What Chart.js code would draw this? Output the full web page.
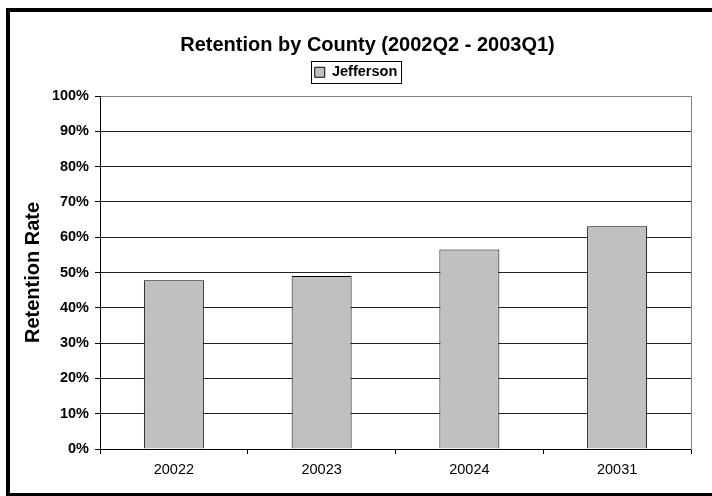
<!DOCTYPE html>
<html>
<head>
<meta charset="utf-8">
<title>Retention by County</title>
<script src="https://cdn.jsdelivr.net/npm/chart.js@4.4.1/dist/chart.umd.min.js"></script>
<style>
    html, body { margin: 0; padding: 0; background: #fff; }
    body { width: 712px; height: 496px; position: relative; overflow: hidden; }
    /* 外框（粗黑线，右侧超出画面） */
    #frame {
        position: absolute; left: 6px; top: 8px;
        width: 720px; height: 489px;
        box-sizing: border-box;
        border: 4px solid #000;
    }
    #c { position: absolute; left: 0; top: 0; }
</style>
</head>
<body>
<div id="frame"></div>
<canvas id="c" width="712" height="496"></canvas>

<script>
// ============================================================
// 数据
// ============================================================

var CHART_TITLE  = "Retention by County (2002Q2 - 2003Q1)";
var AXIS_TITLE   = "Retention Rate";
var SERIES_NAME  = "Jefferson";
var QUARTERS     = ["20022", "20023", "20024", "20031"];
var RETENTION    = [47.8, 49.0, 56.5, 63.1];   // 百分比
var Y_MIN = 0, Y_MAX = 100, Y_STEP = 10;

var FONT_FAMILY = "Arial, 'Liberation Sans', sans-serif";


// ============================================================
// 小插件：挪一下标题/图例位置，给图例画边框
// ============================================================

var layoutNudge = {
    id: "layoutNudge",
    afterLayout: function (chart) {
        var t = chart.titleBlock;
        t.left += 11.5; t.right += 11.5;
        var lg = chart.legend;
        lg.top -= 6.5; lg.bottom -= 6.5;
    },
    afterDraw: function (chart) {
        var hb = chart.legend.legendHitBoxes[0];
        if (!hb) return;
        var ctx = chart.ctx;
        var x1 = Math.round(hb.left - 4) + 0.5;
        var x2 = Math.round(hb.left + hb.width + 4) + 0.5;
        var y1 = Math.round(hb.top - 4) + 0.5;
        var y2 = Math.round(hb.top + hb.height + 3) + 0.5;
        ctx.save();
        ctx.strokeStyle = "#000";
        ctx.lineWidth = 1;
        ctx.strokeRect(x1, y1, x2 - x1, y2 - y1);
        ctx.restore();
    }
};


// ============================================================
// 画图
// ============================================================

document.addEventListener("DOMContentLoaded", function () {
    var ctx = document.getElementById("c").getContext("2d");

    new Chart(ctx, {
        type: "bar",
        data: {
            labels: QUARTERS,
            datasets: [{
                label: SERIES_NAME,
                data: RETENTION,
                backgroundColor: "#c0c0c0",
                borderColor: "#000",
                borderWidth: 1,
                barPercentage: 0.406,
                categoryPercentage: 1.0
            }]
        },
        plugins: [layoutNudge],
        options: {
            responsive: false,
            animation: false,
            layout: { padding: 0 },
            plugins: {
                title: {
                    display: true,
                    text: CHART_TITLE,
                    color: "#000",
                    font: { family: FONT_FAMILY, size: 20, weight: "bold" },
                    padding: { top: 33, bottom: 0 }
                },
                legend: {
                    display: true,
                    position: "top",
                    labels: {
                        color: "#000",
                        boxWidth: 10,
                        boxHeight: 10,
                        padding: 14.5,
                        font: { family: FONT_FAMILY, size: 14.5, weight: "bold" }
                    }
                },
                tooltip: { enabled: false }
            },
            scales: {
                x: {
                    grid: {
                        display: true,
                        drawOnChartArea: false,
                        drawTicks: true,
                        tickLength: 5,
                        color: "#000",
                        offset: true
                    },
                    border: { color: "#000" },
                    ticks: {
                        color: "#000",
                        padding: 7,
                        maxRotation: 0,
                        font: { family: FONT_FAMILY, size: 14.5 }
                    },
                    afterFit: function (s) { s.height = 47; }
                },
                y: {
                    min: Y_MIN,
                    max: Y_MAX,
                    grid: {
                        color: function (c) {
                            return c.tick && c.tick.value === Y_MAX ? "#808080" : "#222";
                        },
                        tickColor: "#000",
                        tickLength: 5
                    },
                    border: { color: "#000" },
                    ticks: {
                        stepSize: Y_STEP,
                        color: "#000",
                        padding: 6,
                        font: { family: FONT_FAMILY, size: 14.5, weight: "bold" },
                        callback: function (v) { return v + "%"; }
                    },
                    title: {
                        display: true,
                        text: AXIS_TITLE,
                        color: "#000",
                        font: { family: FONT_FAMILY, size: 20, weight: "bold" },
                        padding: { top: 21, bottom: 0 }
                    },
                    afterFit: function (s) { s.width = 100; }
                },
                // 右侧灰色边框
                y2: {
                    position: "right",
                    grid: { display: true, drawOnChartArea: false, drawTicks: false },
                    border: { color: "#808080" },
                    ticks: { display: false },
                    afterFit: function (s) { s.width = 21; }
                }
            }
        }
    });
});
</script>
</body>
</html>
